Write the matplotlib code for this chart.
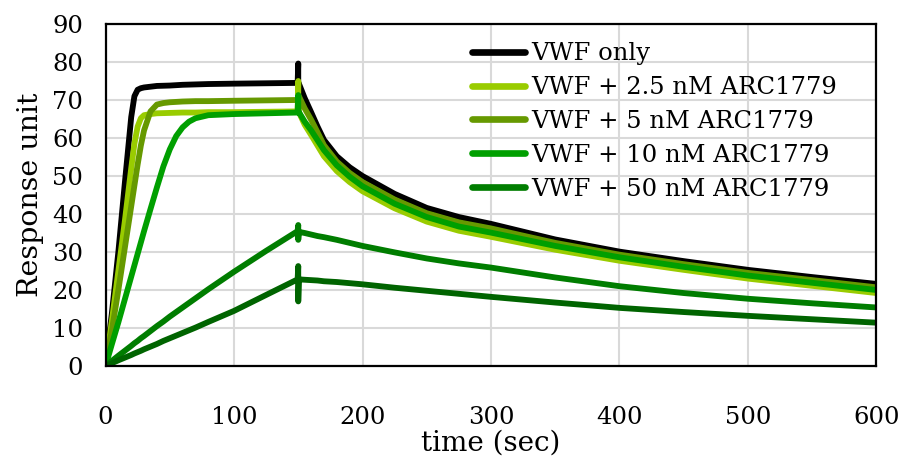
import matplotlib
matplotlib.use("Agg")
import matplotlib.pyplot as plt
import numpy as np

plt.rcParams['font.family'] = ['DejaVu Serif']

# ---- data ----
t_rise = [0, 5, 10, 15, 20, 22.5, 25, 27.5, 30, 35, 40, 45, 50, 55, 60, 65, 70,
          80, 100, 125, 149.5]
t_decay = [150.5, 155, 160, 165, 170, 180, 190, 200, 225, 250, 275, 300,
           350, 400, 450, 500, 550, 600]
t_spike = 150

labels = ["VWF only", "VWF + 2.5 nM ARC1779", "VWF + 5 nM ARC1779",
          "VWF + 10 nM ARC1779", "VWF + 50 nM ARC1779", None]
colors = ["#000000", "#99CC00", "#669900", "#009F00", "#007D00", "#006400"]

rise = [
    [0, 14, 30, 48, 65.5, 71, 72.7, 73.1, 73.3, 73.5, 73.7, 73.75, 73.8, 73.9, 74.0, 74.05, 74.1, 74.2, 74.3, 74.4, 74.5],
    [0, 12, 25, 38, 52, 58.5, 63, 65.2, 66.0, 66.3, 66.5, 66.55, 66.6, 66.65, 66.7, 66.7, 66.7, 66.8, 66.8, 66.9, 67.0],
    [0, 9.5, 20, 31, 42, 47.5, 53, 58, 62, 67, 68.8, 69.2, 69.4, 69.5, 69.6, 69.65, 69.7, 69.7, 69.8, 69.9, 70.0],
    [0, 5.8, 11.5, 17.5, 23.5, 26.5, 29.5, 32.5, 35.5, 41.3, 47, 52.5, 57, 60.5, 62.8, 64.3, 65.2, 66.0, 66.3, 66.5, 66.7],
    [0, 1.35, 2.7, 4.0, 5.3, 6.0, 6.6, 7.3, 7.9, 9.2, 10.5, 11.7, 13.0, 14.2, 15.4, 16.6, 17.8, 20.2, 24.8, 30.3, 35.5],
    [0, 0.75, 1.5, 2.2, 2.9, 3.3, 3.65, 4.0, 4.4, 5.1, 5.8, 6.6, 7.3, 8.0, 8.7, 9.4, 10.1, 11.6, 14.5, 18.7, 22.8],
]
spike_top = [79.6, 75.0, 70.0, 71.3, 37.1, 26.3]
spike_bottom = [74.5, 70.0, 67.0, 66.7, 33.2, 17.0]
decay = [
    [74.3, 70.5, 66.8, 63.0, 59.5, 55.2, 52.3, 50.0, 45.3, 41.6, 39.2, 37.4, 33.3, 30.1, 27.6, 25.3, 23.4, 21.6],
    [66.8, 63.5, 60.8, 58.0, 55.2, 51.3, 48.4, 46.0, 41.5, 38.0, 35.6, 34.0, 30.6, 27.7, 25.3, 23.0, 21.1, 19.2],
    [71.0, 67.8, 64.8, 61.5, 58.1, 53.8, 50.8, 48.4, 43.8, 40.2, 37.8, 36.2, 32.4, 29.3, 26.8, 24.5, 22.6, 20.7],
    [66.8, 64.3, 62.0, 59.4, 56.8, 52.8, 49.8, 47.3, 42.7, 39.2, 36.7, 35.1, 31.6, 28.6, 26.1, 23.8, 21.9, 20.0],
    [35.3, 35.0, 34.6, 34.2, 33.9, 33.2, 32.4, 31.6, 29.9, 28.3, 27.0, 25.9, 23.3, 21.0, 19.2, 17.7, 16.5, 15.4],
    [22.8, 22.7, 22.6, 22.5, 22.3, 22.1, 21.8, 21.5, 20.6, 19.8, 19.0, 18.2, 16.7, 15.3, 14.2, 13.2, 12.3, 11.4],
]

x_ticks = [0, 100, 200, 300, 400, 500, 600]
y_ticks = [0, 10, 20, 30, 40, 50, 60, 70, 80, 90]

# ---- figure ----
fig = plt.figure(figsize=(9.01, 4.57), dpi=100)
ax = fig.add_axes([0.1171, 0.1991, 0.8557, 0.7484])

for i in range(6):
    t = list(t_rise) + [t_spike, t_spike] + list(t_decay)
    y = list(rise[i]) + [spike_top[i], spike_bottom[i]] + list(decay[i])
    ax.plot(t, y, color=colors[i], lw=4.2, solid_capstyle='round',
            solid_joinstyle='round', label=labels[i], zorder=3 + i)

ax.set_xlim(0, 600)
ax.set_ylim(0, 90)
ax.set_xticks(x_ticks)
ax.set_yticks(y_ticks)
ax.grid(True, color='#d9d9d9', lw=1.5, zorder=0)
ax.set_axisbelow(True)
ax.tick_params(length=0, labelsize=17.5)
ax.tick_params(axis='x', pad=29)
ax.tick_params(axis='y', pad=16)
for s in ax.spines.values():
    s.set_color('black')
    s.set_linewidth(1.6)
    s.set_zorder(20)

ax.set_xlabel("time (sec)", fontsize=20, labelpad=0)
ax.set_ylabel("Response unit", fontsize=20.5, labelpad=6)

handles, labs = ax.get_legend_handles_labels()
leg = ax.legend(handles, labs, loc='upper left', bbox_to_anchor=(0.475, 0.947),
                frameon=False, fontsize=17.5, handlelength=2.2, handletextpad=0.25,
                labelspacing=0.45, borderpad=0, borderaxespad=0)
for h in leg.get_lines():
    h.set_linewidth(4.8)
    h.set_solid_capstyle('round')

fig.savefig("out.png", dpi=100)
